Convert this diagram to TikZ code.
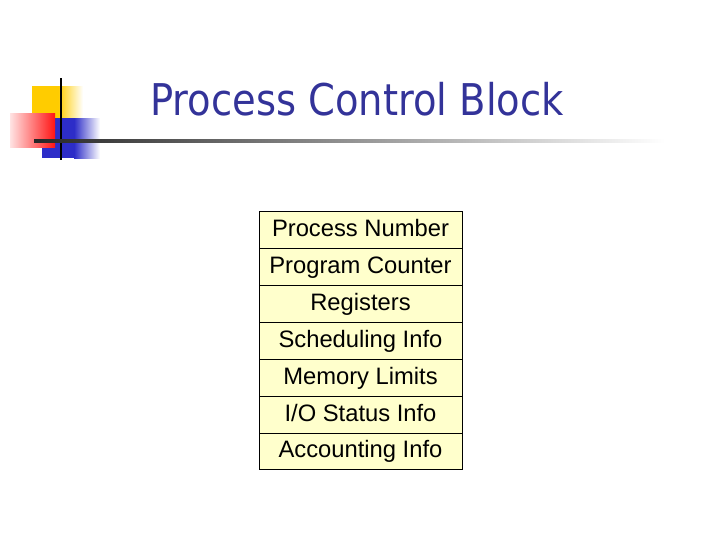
\documentclass[tikz,border=0pt]{standalone}
\usepackage{fontspec}
\setmainfont{Liberation Sans}
\newfontfamily\titlefont{DejaVu Sans}
\usepackage{xcolor}
\definecolor{pcbtitle}{RGB}{51,51,153}
\definecolor{pcbyellow}{RGB}{255,204,0}
\definecolor{pcbred}{RGB}{255,20,20}
\definecolor{pcbblue}{RGB}{45,45,200}
\definecolor{pcbcell}{RGB}{255,255,204}
\usetikzlibrary{positioning}

\begin{document}
\begin{tikzpicture}[
    x=0.025cm, y=-0.025cm,
    cell/.style={
        rectangle, draw=black, line width=0.7pt, fill=pcbcell,
        minimum width=203*0.025cm, minimum height=36.85*0.025cm,
        outer sep=0pt, inner sep=0pt, text=black,
        text height=1.0em, text depth=0.08em,
        font=\fontsize{16.9}{20}\selectfont
    },
    title/.style={font=\titlefont\fontsize{31.1}{36}\selectfont,
                  text=pcbtitle, inner sep=0pt, anchor=base west},
]
\useasboundingbox (0,0) rectangle (720,540);

% ---- Logo squares ----
\fill[pcbyellow] (32,86) rectangle (58,118);
\shade[left color=pcbyellow, right color=white] (58,86) rectangle (83,118);
\fill[pcbblue] (42,118) rectangle (74,158);
\shade[left color=pcbblue, right color=white] (74,118) rectangle (100,158);
\shade[left color=pcbred!12, right color=pcbred] (10,113) rectangle (55,147);

% ---- Logo lines ----
\draw[black, line width=1.4pt] (61,78) -- (61,160);
\shade[left color=black!85, right color=white] (34,139.8) rectangle (665,142.2);

% ---- Title ----
\node[title] (head) at (150,115) {\scalebox{0.88}[1]{Process Control Block}};

% ---- PCB fields ----
\node[cell] (pnum) at (360.5,230.4) {Process Number};
\node[cell, below=0pt of pnum] (pctr) {Program Counter};
\node[cell, below=0pt of pctr] (regs) {Registers};
\node[cell, below=0pt of regs] (sched) {Scheduling Info};
\node[cell, below=0pt of sched] (mem) {Memory Limits};
\node[cell, below=0pt of mem] (io) {I/O Status Info};
\node[cell, below=0pt of io] (acct) {Accounting Info};

\end{tikzpicture}
\end{document}
